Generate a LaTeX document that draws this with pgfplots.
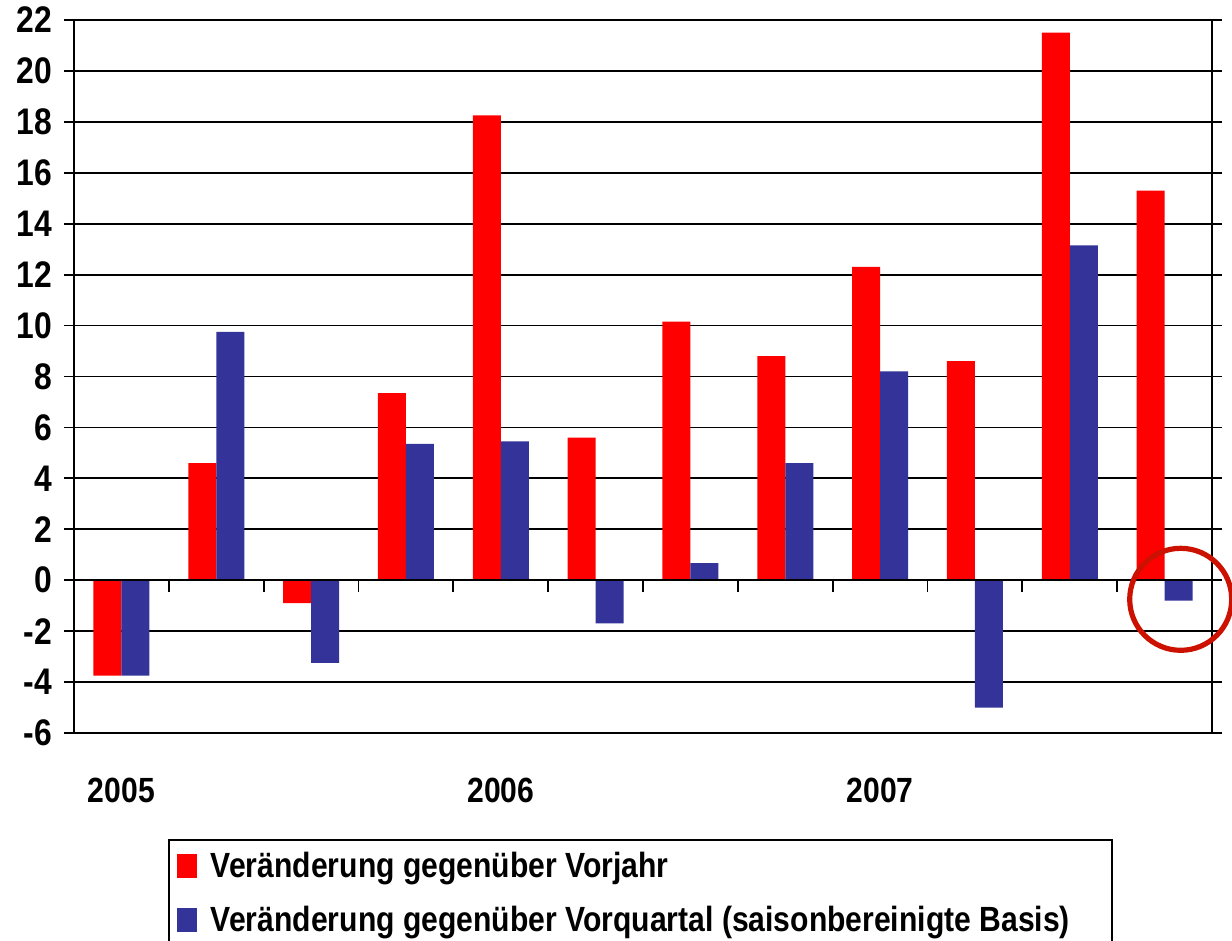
\documentclass[border=0pt]{standalone}
\usepackage{pgfplots}
\pgfplotsset{compat=1.18}
\usepackage{fontspec}
\setmainfont{Liberation Sans}[FakeStretch=0.86]
\definecolor{cred}{HTML}{FF0000}
\definecolor{cblue}{HTML}{333399}
\definecolor{circ}{HTML}{CC1100}
\begin{document}
\begin{tikzpicture}
\useasboundingbox (0,0) rectangle (616pt,470.5pt);
\begin{axis}[
  at={(37pt,104pt)}, anchor=south west,
  scale only axis, width=569pt, height=356.5pt,
  xmin=0.5, xmax=12.5, ymin=-6, ymax=22,
  clip=false,
  ytick={-6,-4,...,22},
  yticklabels={-6,-4,-2,0,2,4,6,8,10,12,14,16,18,20,22},
  ymajorgrids, grid style={black, line width=0.9pt},
  axis line style={black, line width=1.1pt},
  ytick style={black, line width=0.9pt}, tick align=outside, major tick length=5pt,
  xtick={1,5,9}, xticklabels={2005,2006,2007}, xtick style={draw=none},
  yticklabel style={font=\fontsize{18.5}{20}\selectfont\bfseries, xshift=-2.5pt},
  xticklabel style={font=\fontsize{17.5}{20}\selectfont\bfseries, yshift=-14pt},
  legend cell align=left,
  legend style={at={(0.0826,-0.1487)}, anchor=north west, draw=black, line width=0.8pt,
    font=\fontsize{17.5}{20}\selectfont\bfseries, row sep=9pt, inner xsep=4pt, inner ysep=4pt},
  legend image code/.code={\fill[#1] (0pt,-6pt) rectangle (10pt,6pt); \path (15pt,0pt);},
]
\addplot[ybar, bar width=14pt, bar shift=-7pt, fill=cred, draw=none] coordinates {
 (1,-3.75) (2,4.6) (3,-0.9) (4,7.35) (5,18.25) (6,5.6) (7,10.15) (8,8.8) (9,12.3) (10,8.6) (11,21.5) (12,15.3)};
\addlegendentry{Veränderung gegenüber Vorjahr}
\addplot[ybar, bar width=14pt, bar shift=7pt, fill=cblue, draw=none] coordinates {
 (1,-3.75) (2,9.75) (3,-3.25) (4,5.35) (5,5.45) (6,-1.7) (7,0.67) (8,4.6) (9,8.2) (10,-5.0) (11,13.15) (12,-0.8)};
\addlegendentry{Veränderung gegenüber Vorquartal (saisonbereinigte Basis)\hspace*{15pt}}
\draw[black, line width=1.1pt] (axis cs:0.5,0) -- (axis cs:12.5,0);
\pgfplotsinvokeforeach{1.5,2.5,3.5,4.5,5.5,6.5,7.5,8.5,9.5,10.5,11.5}{\draw[black,line width=0.9pt] (axis cs:#1,0) -- (axis cs:#1,-0.47);}
\draw[circ, line width=2.6pt] (axis cs:12.17,-0.75) circle[radius=25.5pt];
\end{axis}
\end{tikzpicture}
\end{document}
